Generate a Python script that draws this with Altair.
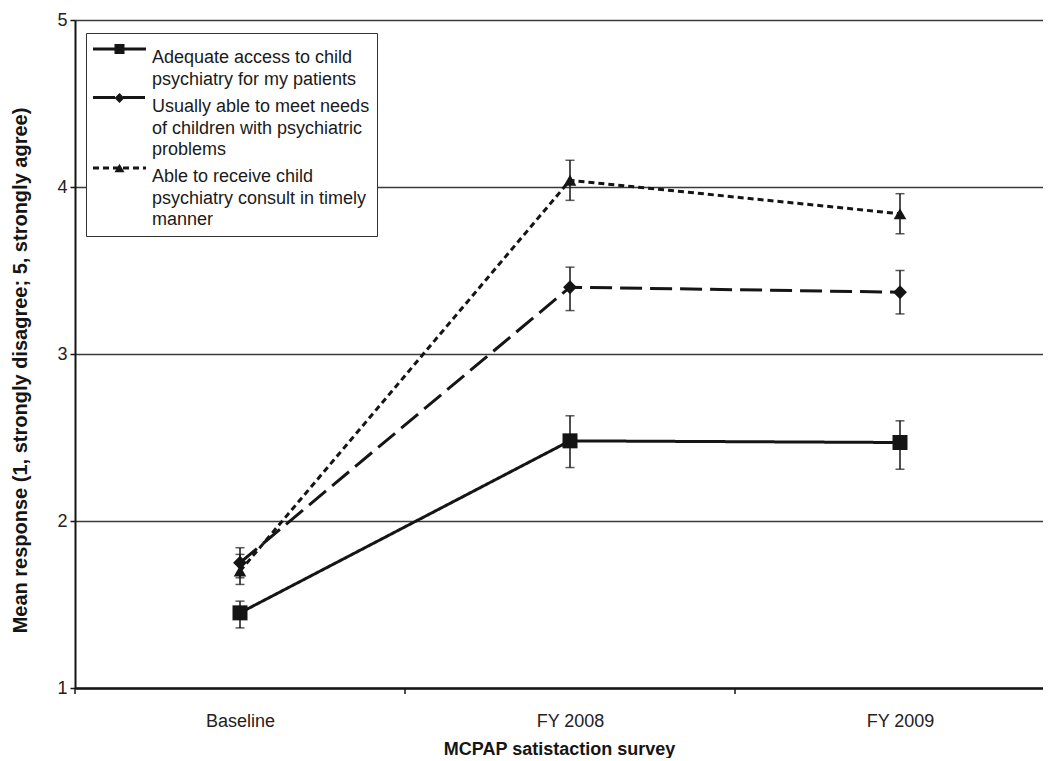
import json
import altair as alt
import pandas as pd

# ---------------- data ----------------
categories = ["Baseline", "FY 2008", "FY 2009"]
series = [
    "Adequate access to child|psychiatry for my patients",
    "Usually able to meet needs|of children with psychiatric|problems",
    "Able to receive child|psychiatry consult in timely|manner",
]
mean_access = [1.45, 2.48, 2.47]
mean_needs = [1.75, 3.40, 3.37]
mean_consult = [1.70, 4.04, 3.84]
low_access = [1.36, 2.32, 2.31]
low_needs = [1.66, 3.26, 3.24]
low_consult = [1.62, 3.92, 3.72]
high_access = [1.52, 2.63, 2.60]
high_needs = [1.84, 3.52, 3.50]
high_consult = [1.80, 4.16, 3.96]
y_ticks = [1, 2, 3, 4, 5]
boundaries = [-0.5, 0.5, 1.5]

means = [mean_access, mean_needs, mean_consult]
lows = [low_access, low_needs, low_consult]
highs = [high_access, high_needs, high_consult]

rows = []
for s, m, lo, hi in zip(series, means, lows, highs):
    for i, c in enumerate(categories):
        rows.append({"series": s, "cat": c, "idx": i, "mean": m[i], "lo": lo[i], "hi": hi[i]})
df = pd.DataFrame(rows)
bdf = pd.DataFrame({"b": boundaries})

FONT = "Liberation Sans"
INK = "#151515"
W, H = 968, 668

xscale = alt.Scale(domain=[-0.5, -0.5 + W / 330.0], nice=False, zero=False)
yscale = alt.Scale(domain=[1, 5], nice=False, zero=False)

label_expr = json.dumps(categories) + "[datum.value]"

xaxis = alt.Axis(
    values=[0, 1, 2], labelExpr=label_expr, ticks=False, grid=False,
    domainColor=INK, domainWidth=2.5, labelFontSize=18, labelFont=FONT,
    labelColor="#222", labelPadding=24, title="MCPAP satistaction survey",
    titleFont=FONT, titleFontSize=18, titleFontWeight="bold", titleColor=INK,
    titlePadding=10,
)
yaxis = alt.Axis(
    values=y_ticks, format="d", grid=True, gridColor="#3a3a3a", gridWidth=1.3,
    domainColor=INK, domainWidth=2, tickColor=INK, tickWidth=1.5, tickSize=5,
    labelFontSize=18, labelFont=FONT, labelColor="#222", labelPadding=3,
    title="Mean response  (1, strongly disagree; 5, strongly agree)",
    titleFont=FONT, titleFontSize=20, titleFontWeight="bold", titleColor=INK,
    titleX=-55, titleY=350, titleBaseline="middle", titleAngle=270,
)

base = alt.Chart(df)

# tick marks at the category boundaries on the x axis
bticks = alt.Chart(bdf).mark_rule(color=INK, strokeWidth=1.5).encode(
    x=alt.X("b:Q", scale=xscale, axis=xaxis),
    y=alt.value(H),
    y2=alt.value(H + 6),
)

# ---- markers (carry the boxed legend with the labels) ----
markers = ["square", "diamond", "triangle-up"]
marker_sizes = [225, 160, 256]

points = base.transform_calculate(marker_key="datum.series").mark_point(
    filled=True, opacity=1, color=INK, strokeWidth=0
).encode(
    x=alt.X("idx:Q", scale=xscale),
    y=alt.Y("mean:Q", scale=yscale),
    size=alt.Size("marker_key:N", sort=series, legend=None,
                  scale=alt.Scale(range=marker_sizes)),
    shape=alt.Shape(
        "series:N",
        scale=alt.Scale(domain=series, range=markers),
        legend=alt.Legend(
            title=None, orient="none", legendX=11, legendY=13,
            symbolSize=100, symbolStrokeWidth=0, symbolFillColor=INK,
            symbolOpacity=1, symbolOffset=17.5,
            labelOffset=23.5, labelBaseline="top",
            labelExpr="split(datum.label, '|')", labelFont=FONT,
            labelFontSize=18, labelColor="#1a1a1a", labelLimit=600,
            padding=7, rowPadding=0, strokeColor="#333", fillColor="white",
        ),
    ),
)

# ---- lines (carry a second legend: the line samples drawn over the markers) ----
line_legend = alt.Legend(
    title=None, orient="none", legendX=11, legendY=-6,
    symbolType="stroke", symbolSize=2809, symbolStrokeWidth=3,
    symbolStrokeColor=INK, symbolOpacity=1, symbolOffset=-1.5,
    labelExpr="slice([' ', ' ', ' '], 0, max(1, length(split(datum.label, '|')) - 1))",
    labelFont=FONT, labelFontSize=18, labelBaseline="top", labelLimit=600,
    padding=7, rowPadding=2.5,
)

lines = base.mark_line(color=INK, strokeWidth=3).encode(
    x=alt.X("idx:Q", scale=xscale, axis=xaxis),
    y=alt.Y("mean:Q", scale=yscale, axis=yaxis),
    strokeDash=alt.StrokeDash(
        "series:N", sort=series, legend=line_legend,
        scale=alt.Scale(range=[[1, 0], [22, 8], [6, 4]]),
    ),
    detail="series:N",
)

ebars = base.mark_rule(color=INK, strokeWidth=1.5).encode(
    x=alt.X("idx:Q", scale=xscale),
    y=alt.Y("lo:Q", scale=yscale),
    y2="hi:Q",
)
cap_lo = base.mark_tick(orient="horizontal", size=9, thickness=1.5, color=INK).encode(
    x=alt.X("idx:Q", scale=xscale),
    y=alt.Y("lo:Q", scale=yscale),
)
cap_hi = base.mark_tick(orient="horizontal", size=9, thickness=1.5, color=INK).encode(
    x=alt.X("idx:Q", scale=xscale),
    y=alt.Y("hi:Q", scale=yscale),
)

chart = (
    alt.layer(bticks, points, lines, ebars, cap_lo, cap_hi)
    .properties(
        width=W, height=H,
        autosize=alt.AutoSizeParams(type="none"),
        padding={"left": 67, "top": 12, "right": 0, "bottom": 70},
        background="white",
    )
    .configure_view(stroke=None)
    .configure_legend(strokeWidth=1.5, cornerRadius=0)
    .configure(font=FONT, style={"guide-label": {"lineHeight": 21.5}})
)

chart.save("out.html", embed_options={"renderer": "svg", "actions": False})
